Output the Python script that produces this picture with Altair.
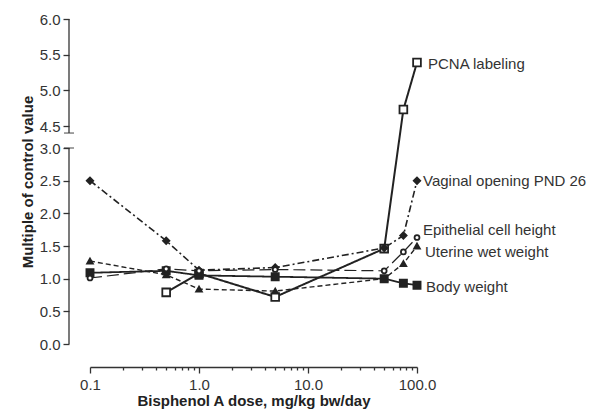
import altair as alt
import pandas as pd

# ---- data ----
doses = [0.1, 0.5, 1.0, 5.0, 50.0, 75.0, 100.0]
series_names = ["PCNA labeling", "Body weight", "Vaginal opening PND 26",
                "Uterine wet weight", "Epithelial cell height"]
pcna = [None, 0.79, 1.08, 0.72, 1.46, 4.73, 5.39]
body_weight = [1.09, 1.12, 1.05, 1.03, 1.00, 0.93, 0.90]
vaginal = [2.50, 1.58, 1.13, 1.17, 1.47, 1.66, 2.50]
uterine = [1.27, 1.06, 0.84, 0.81, 1.00, 1.23, 1.50]
epithelial = [1.01, 1.15, 1.12, 1.14, 1.12, 1.41, 1.63]

y_tick_values = [0.0, 0.5, 1.0, 1.5, 2.0, 2.5, 3.0, 4.5, 5.0, 5.5, 6.0]
x_tick_values = [0.1, 0.2, 0.3, 0.4, 0.5, 0.6, 0.7, 0.8, 0.9,
                 1, 2, 3, 4, 5, 6, 7, 8, 9,
                 10, 20, 30, 40, 50, 60, 70, 80, 90, 100]
# broken y-axis: lower and upper pieces
axis_lo = [0.0, 4.02]
axis_hi = [3.0, 6.0]
axis_caps = [3.0, 4.02]

values = [pcna, body_weight, vaginal, uterine, epithelial]
rows = []
for name, vals in zip(series_names, values):
    for d, v in zip(doses, vals):
        if v is not None:
            rows.append({"series": name, "dose": d, "value": v})
df = pd.DataFrame(rows)

axis_df = pd.DataFrame({"lo": axis_lo, "hi": axis_hi})
caps_df = pd.DataFrame({"y": axis_caps})

INK = "#222222"
AX = "#333333"
FONT = "Liberation Sans"

W, H = 327, 325
xscale = alt.Scale(type="log", domain=[0.1, 100], nice=False)
yscale = alt.Scale(domain=[0, 3, 4.5, 6], range=[H, 129, 107, 0], nice=False, zero=False)

is_major = "abs(log(datum.value)/LN10 - round(log(datum.value)/LN10)) < 0.000001"

x_enc = alt.X(
    "dose:Q", scale=xscale,
    axis=alt.Axis(
        title="Bisphenol A dose, mg/kg bw/day",
        values=x_tick_values, tickCount=60,
        labelExpr=f"{is_major} ? format(datum.value, '.1f') : ''",
        tickSize={"condition": {"test": is_major, "value": 6}, "value": 3},
        offset=23, grid=False, labelFlush=False, labelOverlap=False,
        labelPadding=4, titlePadding=1,
    ),
)
y_enc = alt.Y(
    "value:Q", scale=yscale,
    axis=alt.Axis(
        title="Multiple of control value",
        values=y_tick_values, tickCount=40, format=".1f",
        offset=21, grid=False, domain=False, tickSize=6,
        labelOverlap=False, labelFlush=False,
        labelPadding=3, titlePadding=4,
    ),
)

domain_order = series_names
lines = alt.Chart(df).mark_line(color=INK).encode(
    x=x_enc, y=y_enc,
    detail="series:N",
    strokeDash=alt.StrokeDash("series:N", scale=alt.Scale(
        domain=domain_order,
        range=[[1, 0], [1, 0], [7, 3, 2, 3], [5, 3], [12, 5]]), legend=None),
    strokeWidth=alt.StrokeWidth("series:N", scale=alt.Scale(
        domain=domain_order, range=[2.0, 1.2, 1.2, 1.8, 1.6]), legend=None),
)

points = alt.Chart(df).mark_point(filled=True, stroke=INK, strokeWidth=1.8, opacity=1).encode(
    x="dose:Q", y="value:Q",
    shape=alt.Shape("series:N", scale=alt.Scale(
        domain=domain_order,
        range=["square", "square", "diamond", "triangle-up", "circle"]), legend=None),
    fill=alt.Fill("series:N", scale=alt.Scale(
        domain=domain_order,
        range=["white", INK, INK, INK, "white"]), legend=None),
    size=alt.Size("series:N", scale=alt.Scale(
        domain=domain_order, range=[60, 24, 110, 85, 70]), legend=None),
)

label_offsets = {
    "PCNA labeling": (11, 1),
    "Vaginal opening PND 26": (6, 0),
    "Epithelial cell height": (6, -8),
    "Uterine wet weight": (8, 6),
    "Body weight": (9, 2),
}
labels = []
for name, (dx, dy) in label_offsets.items():
    labels.append(
        alt.Chart(df).transform_filter(
            (alt.datum.series == name) & (alt.datum.dose == 100)
        ).mark_text(align="left", baseline="middle", dx=dx, dy=dy,
                    fontSize=15, font=FONT, color=AX).encode(
            x="dose:Q", y="value:Q", text="series:N")
    )

axis_rules = alt.Chart(axis_df).mark_rule(color=AX, strokeWidth=1.3).encode(
    x=alt.value(-21), y="lo:Q", y2="hi:Q")
axis_cap_marks = alt.Chart(caps_df).mark_tick(color=AX, size=10, thickness=1.3).encode(
    x=alt.value(-21), y="y:Q")

chart = alt.layer(lines, points, *labels, axis_rules, axis_cap_marks).properties(
    width=W, height=H,
    autosize=alt.AutoSizeParams(type="none"),
    padding={"left": 82, "top": 11, "right": 177, "bottom": 65},
).configure_view(stroke=None).configure_axis(
    labelFont=FONT, titleFont=FONT, labelFontSize=15, titleFontSize=15,
    labelColor=AX, titleColor=INK, titleFontWeight="bold",
    domainColor=AX, tickColor=AX, domainWidth=1.3, tickWidth=1.3,
)

chart.save("out.html", embed_options={"renderer": "svg", "actions": False})
